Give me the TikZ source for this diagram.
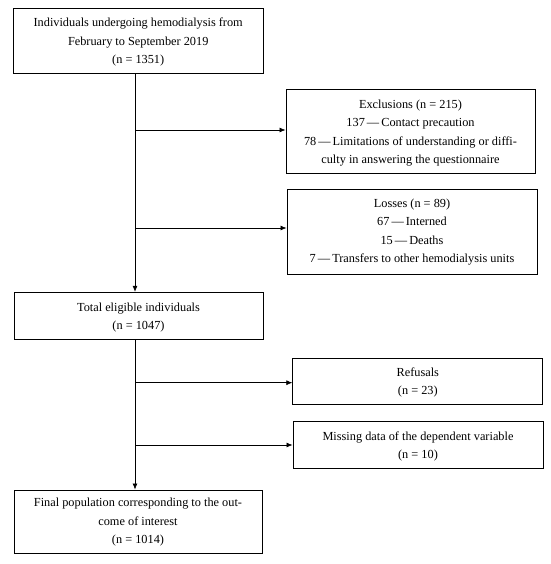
\documentclass[tikz,border=0pt]{standalone}
\usepackage{fontspec}
\setmainfont{Liberation Serif}
\usetikzlibrary{arrows.meta}
\newcommand{\dsh}{\thinspace---\thinspace}
\tikzset{
  flowbox/.style={draw, line width=0.9pt, inner sep=0pt},
  boxtext/.style={align=center, inner sep=0pt,
    font=\fontsize{12.3}{18.5}\selectfont},
  conn/.style={line width=0.7pt, -{Latex[length=6pt,width=5pt]}}
}
\begin{document}
\begin{tikzpicture}[x=1pt,y=-1pt]
\useasboundingbox (0,0) rectangle (550,564);
% boxes
\node[flowbox, minimum width=249.5pt, minimum height=64.7pt] (top) at (138.2,40.65) {};
\node[flowbox, minimum width=249pt, minimum height=84pt] (excl) at (410.5,131) {};
\node[flowbox, minimum width=250pt, minimum height=85pt] (loss) at (412,231.5) {};
\node[flowbox, minimum width=249pt, minimum height=46.7pt] (total) at (138.5,315.65) {};
\node[flowbox, minimum width=250pt, minimum height=46pt] (ref) at (417.8,381.3) {};
\node[flowbox, minimum width=250pt, minimum height=46.6pt] (miss) at (418,445) {};
\node[flowbox, minimum width=248pt, minimum height=63pt] (final) at (138,521.5) {};
% texts
\node[boxtext] (top-t) at ([yshift=-1.7pt]top.center)
  {Individuals undergoing hemodialysis from\\February to September 2019\\(n = 1351)};
\node[boxtext] (excl-t) at ([yshift=-1.85pt]excl.center)
  {Exclusions (n = 215)\\137\dsh Contact precaution\\78\dsh Limitations of understanding or diffi-\\culty in answering the questionnaire};
\node[boxtext] (loss-t) at ([yshift=-0.35pt]loss.center)
  {Losses (n = 89)\\67\dsh Interned\\15\dsh Deaths\\7\dsh Transfers to other hemodialysis units};
\node[boxtext] (total-t) at ([yshift=-1.7pt]total.center)
  {Total eligible individuals\\(n = 1047)};
\node[boxtext] (ref-t) at ([yshift=-1.05pt]ref.center)
  {Refusals\\(n = 23)};
\node[boxtext] (miss-t) at ([yshift=-1.35pt]miss.center)
  {Missing data of the dependent variable\\(n = 10)};
\node[boxtext] (final-t) at ([yshift=-0.55pt]final.center)
  {Final population corresponding to the out-\\come of interest\\(n = 1014)};
% connectors
\coordinate (b1) at (135,130);
\coordinate (b2) at (135,228);
\coordinate (b3) at (135,382.7);
\coordinate (b4) at (135,445);
\draw[conn] (top.south -| b1) -- (total.north -| b1);
\draw[conn] (b1) -- (b1 -| excl.west);
\draw[conn] (b2) -- (b2 -| loss.west);
\draw[conn] (total.south -| b1) -- (final.north -| b1);
\draw[conn] (b3) -- (b3 -| ref.west);
\draw[conn] (b4) -- (b4 -| miss.west);
\end{tikzpicture}
\end{document}
